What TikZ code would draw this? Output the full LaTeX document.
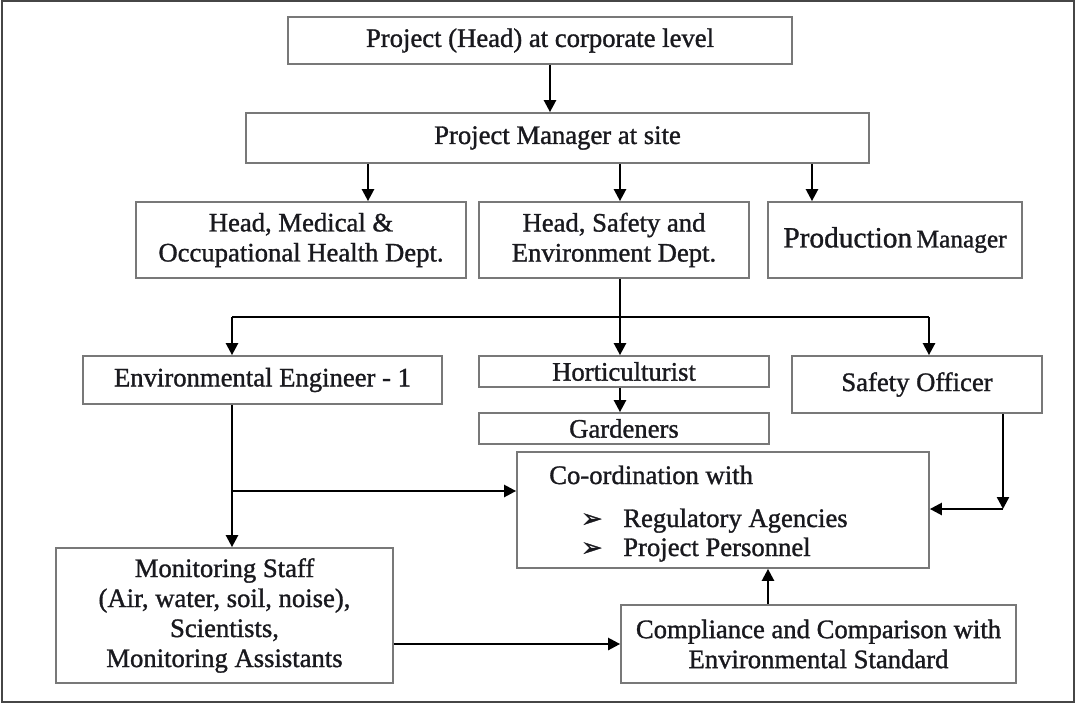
\documentclass[tikz,border=0pt]{standalone}
\usepackage{fontspec}
\setmainfont{Liberation Serif}[FakeBold=1.2]
\newfontfamily\symfont{DejaVu Sans}[FakeBold=1.5]
\usetikzlibrary{arrows.meta}
\definecolor{boxgray}{RGB}{120,120,120}
\definecolor{framegray}{RGB}{70,70,70}
\definecolor{txt}{RGB}{25,25,30}
\begin{document}
\begin{tikzpicture}[x=0.75pt,y=-0.75pt,
  box/.style 2 args={draw=boxgray, line width=1.3pt, minimum width=#1*0.75pt, minimum height=#2*0.75pt,
    inner sep=0pt, align=center, text=txt, font=\fontsize{20}{22.5}\selectfont},
  lbl/.style={text=txt, inner sep=0pt, font=\fontsize{20}{22.5}\selectfont},
  arr/.style={line width=1.8pt, -{Triangle[length=9pt,width=9pt]}},
  ln/.style={line width=1.8pt}]
\useasboundingbox (0,0) rectangle (1075,704);
\draw[framegray, line width=1.2pt] (2,1) rectangle (1074,702);

% boxes
\node[box={504}{47}] (top) at (540,40.5) {Project (Head) at corporate level};
\node[box={623}{50}] (pm) at (557.5,138) {Project Manager at site};
\node[box={330}{76}] (med) at (301,240) {Head, Medical \&\\Occupational Health Dept.};
\node[box={270}{76}] (hse) at (614,240) {Head, Safety and\\Environment Dept.};
\node[box={254}{76}] (prod) at (895,240) {{\fontsize{22}{24}\selectfont Production}\,{\fontsize{19}{22}\selectfont Manager}};
\node[box={359}{48}] (env) at (262.5,380) {Environmental Engineer - 1};
\node[box={290}{31}] (hort) at (624,371.5) {Horticulturist};
\node[box={290}{31}] (gard) at (624,428.5) {Gardeners};
\node[box={250}{57}] (safe) at (917,384.5) {\raisebox{3pt}{Safety Officer}};
\node[box={412}{116}] (coord) at (723,510) {};
\node[box={337}{135}] (mon) at (224.5,615.5) {Monitoring Staff\\(Air, water, soil, noise),\\Scientists,\\Monitoring Assistants};
\node[box={395}{78}] (comp) at (818.5,644) {Compliance and Comparison with\\Environmental Standard};

% coordination contents
\node[lbl, anchor=base west] (cotitle) at (549,484) {Co-ordination with};
\node[lbl, anchor=base west, font=\symfont\fontsize{19}{22}\selectfont] (b1) at (581,527) {➢};
\node[lbl, anchor=base west] (reg) at (623,527) {Regulatory Agencies};
\node[lbl, anchor=base west, font=\symfont\fontsize{19}{22}\selectfont] (b2) at (581,556) {➢};
\node[lbl, anchor=base west] (pers) at (623,556) {Project Personnel};

% helper coordinates
\coordinate (xa) at (550,0);
\coordinate (xm) at (368,0);
\coordinate (xh) at (620,0);
\coordinate (xp) at (812,0);
\coordinate (jl) at (232,317);
\coordinate (jc) at (620,317);
\coordinate (jr) at (929,317);
\coordinate (eb) at (232,491);
\coordinate (sc) at (1003,509);
\coordinate (my) at (0,644);
\coordinate (cx) at (768,0);

% connectors
\draw[arr] (top.south -| xa) -- (pm.north -| xa);
\draw[arr] (pm.south -| xm) -- (med.north -| xm);
\draw[arr] (pm.south -| xh) -- (hse.north -| xh);
\draw[arr] (pm.south -| xp) -- (prod.north -| xp);
\draw[ln] (hse.south -| jc) -- (jc);
\draw[ln] (jl) -- (jr);
\draw[arr] (jl) -- (env.north -| jl);
\draw[arr] (jc) -- (hort.north -| jc);
\draw[arr] (jr) -- (safe.north -| jr);
\draw[arr] (hort.south -| jc) -- (gard.north -| jc);
\draw[arr] (env.south -| eb) -- (mon.north -| eb);
\draw[arr] (eb) -- (coord.west |- eb);
\draw[arr] (safe.south -| sc) -- (sc);
\draw[arr] (sc) -- (coord.east |- sc);
\draw[arr] (mon.east |- my) -- (comp.west |- my);
\draw[arr] (comp.north -| cx) -- (coord.south -| cx);
\end{tikzpicture}
\end{document}
